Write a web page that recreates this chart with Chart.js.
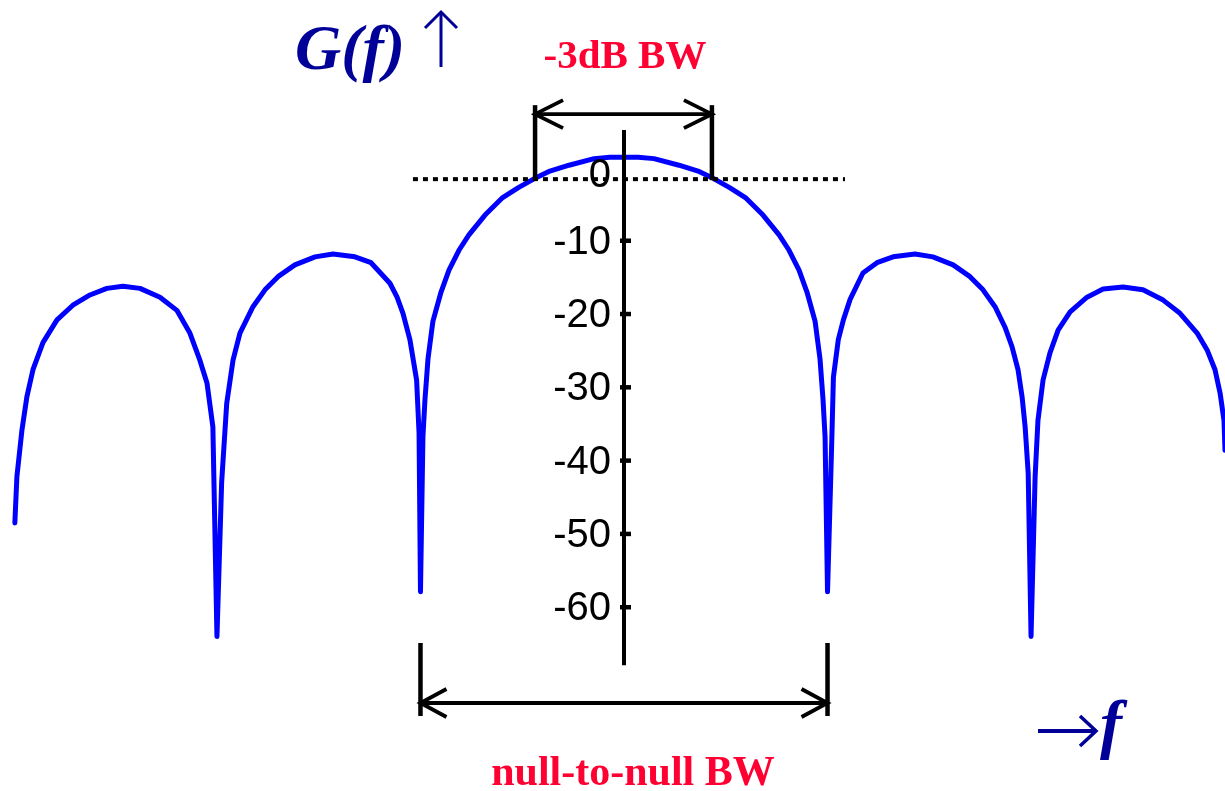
<!DOCTYPE html>
<html>
<head>
<meta charset="utf-8">
<script src="https://cdn.jsdelivr.net/npm/chart.js@4/dist/chart.umd.min.js"></script>
<style>
  html, body { margin:0; padding:0; background:#fff; }
  canvas { display:block; }
</style>
</head>
<body>
<canvas id="spectrum" width="1225" height="791"></canvas>
<script>
// normalised frequency (nulls at +-1, +-2) and gain in dB
const freq = [
  -2.993, -2.983, -2.958, -2.934, -2.904, -2.855, -2.786, -2.708, -2.624, -2.541,
  -2.462, -2.378, -2.280, -2.197, -2.133, -2.084, -2.049, -2.020, -2.000,
  -1.977, -1.952, -1.921, -1.887, -1.823, -1.764, -1.700, -1.617, -1.518, -1.430,
  -1.322, -1.243, -1.150, -1.115, -1.086, -1.052, -1.019, -1.007, -1.000,
  -0.988, -0.978, -0.963, -0.939, -0.899, -0.860, -0.811, -0.762, -0.683, -0.600,
  -0.521, -0.432, -0.364, -0.270, -0.147, -0.069, 0,
  0.069, 0.147, 0.270, 0.364, 0.432, 0.521, 0.600, 0.683, 0.762, 0.811,
  0.860, 0.899, 0.939, 0.963, 0.978, 0.988, 1.000,
  1.021, 1.029, 1.053, 1.078, 1.111, 1.174, 1.243, 1.322, 1.430, 1.518,
  1.617, 1.700, 1.764, 1.823, 1.872, 1.907, 1.936, 1.956, 1.971, 1.986, 2.000,
  2.020, 2.034, 2.059, 2.093, 2.133, 2.192, 2.275, 2.354, 2.452, 2.550,
  2.649, 2.732, 2.816, 2.865, 2.904, 2.929, 2.948, 2.953
];
const gainDb = [
  -48.5, -42.2, -35.8, -31.3, -27.6, -23.9, -20.8, -18.8, -17.4, -16.5,
  -16.2, -16.5, -17.7, -19.5, -22.6, -26.3, -29.4, -35.4, -64.0,
  -43.0, -32.2, -26.3, -22.6, -19.0, -16.7, -14.9, -13.3, -12.2, -11.8,
  -12.2, -13.0, -15.8, -17.7, -19.9, -23.5, -29.0, -36.2, -57.9,
  -36.8, -31.7, -26.1, -21.0, -17.0, -14.0, -11.3, -9.2, -6.5, -4.2,
  -2.8, -1.4, -0.5, 0.3, 1.2, 1.4, 1.4,
  1.4, 1.2, 0.3, -0.5, -1.4, -2.8, -4.2, -6.5, -9.2, -11.3,
  -14.0, -17.0, -21.0, -26.1, -31.7, -36.8, -57.9,
  -37.2, -28.6, -23.5, -20.8, -18.0, -14.4, -13.0, -12.2, -11.8, -12.2,
  -13.3, -14.9, -16.7, -19.0, -21.8, -24.5, -27.6, -31.3, -35.4, -41.7, -64.0,
  -42.2, -34.5, -29.0, -25.3, -22.2, -19.7, -17.7, -16.6, -16.3, -16.7,
  -18.1, -19.9, -22.6, -24.9, -27.6, -30.8, -34.5, -38.6
];

const yTicks = [0, -10, -20, -30, -40, -50, -60];
const axisRange = [5.1, -67.9];          // dB span of the drawn gain axis
const halfPowerDb = -1.6;                // dotted level line
const halfPowerSpan = [-1.037, 1.086];
const bw3dB = [-0.437, 0.432];
const nullBW = [-1.0, 1.0];

const BLUE = '#0000ff', NAVY = '#000099', RED = 'rgb(255,0,51)';

const annotate = {
  id: 'annotate',
  afterDatasetsDraw(chart){
    const {ctx, scales:{x, y}} = chart;
    const X = v => x.getPixelForValue(v);
    const Y = v => y.getPixelForValue(v);
    const seg = (x1, y1, x2, y2) => { ctx.beginPath(); ctx.moveTo(x1, y1); ctx.lineTo(x2, y2); ctx.stroke(); };
    const arrowHead = (tx, ty, dir, len, half) => {
      ctx.beginPath();
      ctx.moveTo(tx - dir*len, ty - half); ctx.lineTo(tx, ty); ctx.lineTo(tx - dir*len, ty + half);
      ctx.stroke();
    };
    ctx.save();
    ctx.strokeStyle = '#000';
    ctx.lineCap = 'butt';

    // dotted level line
    ctx.lineWidth = 4;
    ctx.setLineDash([5, 5]);
    seg(X(halfPowerSpan[0]), Y(halfPowerDb), X(halfPowerSpan[1]), Y(halfPowerDb));
    ctx.setLineDash([]);

    // gain axis through f = 0
    const x0 = X(0);
    ctx.lineWidth = 4;
    seg(x0, Y(axisRange[0]), x0, Y(axisRange[1]));
    ctx.font = '40px "Liberation Sans", Arial, sans-serif';
    ctx.fillStyle = '#000';
    ctx.textAlign = 'right';
    ctx.textBaseline = 'middle';
    ctx.lineWidth = 4.5;
    yTicks.forEach(t => {
      const ty = Y(t);
      if(t !== 0) seg(x0 - 4, ty, x0 + 7, ty);
      ctx.fillText(String(t), x0 - 13, t === 0 ? ty + 9 : ty + 2);
    });

    // -3dB bandwidth bracket
    ctx.lineWidth = 4.5;
    const topY = Y(halfPowerDb) + 1, capY = topY - 75, arY = topY - 66;
    seg(X(bw3dB[0]), capY, X(bw3dB[0]), topY);
    seg(X(bw3dB[1]), capY, X(bw3dB[1]), topY);
    ctx.lineWidth = 3.8;
    seg(X(bw3dB[0]), arY, X(bw3dB[1]), arY);
    arrowHead(X(bw3dB[0]), arY, -1, 28, 14);
    arrowHead(X(bw3dB[1]), arY, 1, 28, 14);

    // null-to-null bracket
    ctx.lineWidth = 4.5;
    const nTop = 643, nBot = 716, nAr = 703;
    seg(X(nullBW[0]), nTop, X(nullBW[0]), nBot);
    seg(X(nullBW[1]), nTop, X(nullBW[1]), nBot);
    ctx.lineWidth = 3.8;
    seg(X(nullBW[0]), nAr, X(nullBW[1]), nAr);
    arrowHead(X(nullBW[0]), nAr, -1, 26, 14);
    arrowHead(X(nullBW[1]), nAr, 1, 26, 14);

    // labels
    ctx.textBaseline = 'alphabetic';
    ctx.textAlign = 'center';
    ctx.fillStyle = RED;
    ctx.font = 'bold 41px "Liberation Serif", "Times New Roman", serif';
    ctx.fillText('-3dB BW', 625, 68);
    ctx.font = 'bold 42px "Liberation Serif", "Times New Roman", serif';
    ctx.fillText('null-to-null BW', 633, 785);

    ctx.fillStyle = NAVY;
    ctx.strokeStyle = NAVY;
    ctx.textAlign = 'left';
    ctx.font = 'bold italic 64px "Liberation Serif", "Times New Roman", serif';
    ctx.fillText('G(f)', 295, 69);
    // up arrow beside G(f)
    ctx.lineWidth = 3;
    seg(441, 12, 441, 67);
    ctx.beginPath(); ctx.moveTo(425, 28); ctx.lineTo(441, 12); ctx.lineTo(457, 28); ctx.stroke();

    // frequency arrow and f
    ctx.lineWidth = 4;
    seg(1038, 731, 1095, 731);
    ctx.lineWidth = 3.5;
    ctx.beginPath(); ctx.moveTo(1080, 716); ctx.lineTo(1096, 731); ctx.lineTo(1080, 746); ctx.stroke();
    ctx.font = 'bold italic 66px "Liberation Serif", "Times New Roman", serif';
    ctx.fillText('f', 1100, 746);

    ctx.restore();
  }
};

new Chart(document.getElementById('spectrum'), {
  type: 'line',
  data: {
    datasets: [{
      data: freq.map((f, i) => ({x: f, y: gainDb[i]})),
      borderColor: BLUE,
      borderWidth: 5,
      borderJoinStyle: 'round',
      borderCapStyle: 'round',
      pointRadius: 0,
      tension: 0,
      fill: false
    }]
  },
  options: {
    responsive: false,
    animation: false,
    layout: {padding: 0},
    plugins: {legend: {display: false}, tooltip: {enabled: false}},
    scales: {
      x: {type: 'linear', min: -3.066, max: 2.953, display: false},
      y: {type: 'linear', min: -85.07, max: 22.84, display: false}
    }
  },
  plugins: [annotate]
});
</script>
</body>
</html>
